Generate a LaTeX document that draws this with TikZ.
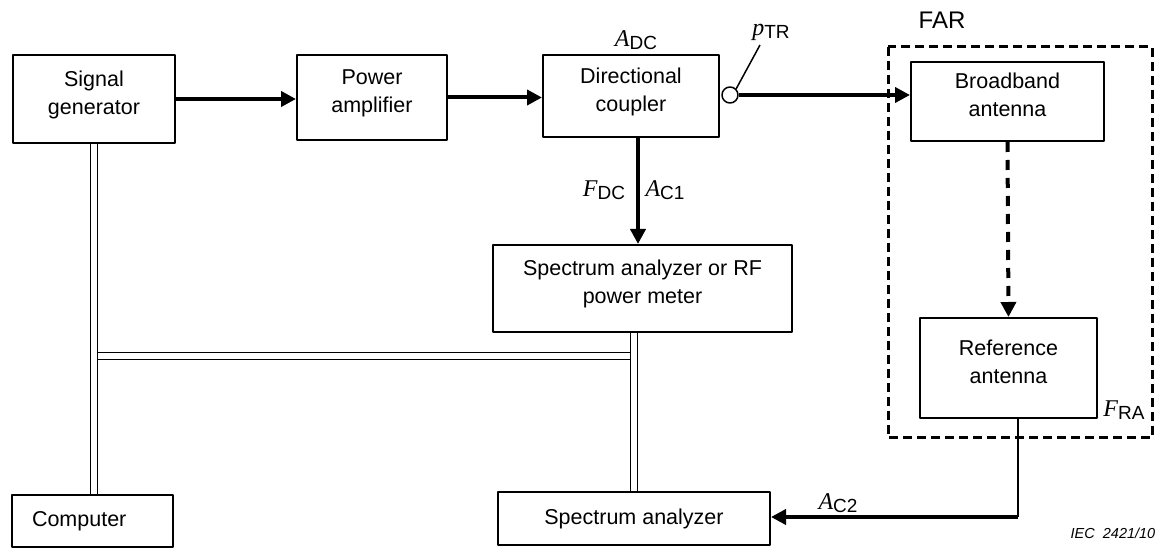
\documentclass[tikz,border=0pt]{standalone}
\usepackage{fontspec}
\setmainfont{Liberation Sans}
\newfontfamily\symfont{Liberation Serif}
\usetikzlibrary{arrows.meta}
\newcommand\qsym[2]{{\symfont\itshape\fontsize{24}{24}\selectfont #1}\raisebox{-.3ex}{\fontsize{19}{19}\selectfont #2}}
\newcommand\twoline[2]{\raisebox{0pt}[\height][\dimexpr\depth+9pt\relax]{\begin{tabular}{@{}c@{}}#1\\#2\end{tabular}}}
\begin{document}
\begin{tikzpicture}[x=1pt,y=-1pt,join=round,
    font=\fontsize{21.5}{28}\selectfont,
    box/.style={draw,line width=2pt,inner sep=0pt},
    sig/.style={line width=4pt,-{Triangle[length=15pt,width=15pt]}},
    bus/.style={double,double distance=5.5pt,line width=1.5pt},
    thinline/.style={line width=2pt}]% measurement set-up, FAR
        \useasboundingbox (0,0) rectangle (1171,553);
        % instruments
        \node[box,minimum width=162pt,minimum height=88pt] (siggen) at (94,99) {\twoline{Signal}{generator}};
        \node[box,minimum width=150pt,minimum height=85pt] (pamp) at (372,97.5) {\twoline{Power}{amplifier}};
        \node[box,minimum width=176pt,minimum height=82pt] (dcoup) at (631,96) {\twoline{Directional}{coupler}};
        \node[box,minimum width=299pt,minimum height=87pt] (sarf) at (642.5,288.5) {\twoline{Spectrum analyzer or RF}{power meter}};
        \node[box,minimum width=161pt,minimum height=52pt,text width=121pt] (comp) at (92.5,521) {Computer};
        \node[box,minimum width=272pt,minimum height=53pt] (sa) at (634,518.5) {Spectrum analyzer};
        % FAR
        \draw[line width=3pt,dash pattern=on 9pt off 5pt] (888,47) rectangle (1152,438);
        \node[font=\fontsize{24}{24}\selectfont] (far) at (942,20) {FAR};
        \node[box,minimum width=193pt,minimum height=79pt] (bband) at (1007.5,101.5) {\twoline{Broadband}{antenna}};
        \node[box,minimum width=177pt,minimum height=100pt] (refant) at (1008.5,368) {\twoline{Reference}{antenna}};
        \node[draw,circle,line width=1.5pt,minimum size=16pt,inner sep=0pt] (port) at (730,95) {};
        % labels
        \node (adc) at (636,40) {\qsym{A}{DC}};
        \node (ptr) at (771,32) {\qsym{p}{TR}};
        \node (fdc) at (604,190) {\qsym{F}{DC}};
        \node (ac2) at (838,503) {\qsym{A}{C2}};
        \node (ac1) at (665,190) {\qsym{A}{C1}};
        \node (fra) at (1124,410) {\qsym{F}{RA}};
        \node[font=\fontsize{14.5}{14.5}\selectfont\itshape] (iec) at (1113,533) {IEC\ \ 2421/10};
        % signal path
        \draw[sig] (siggen.east) -- (siggen.east -| pamp.west);
        \draw[sig] (pamp.east) -- (pamp.east -| dcoup.west);
        \draw[sig] (port.east) -- (port.east -| bband.west);
        \draw[line width=1.5pt] (port.45) -- (760,45);
        \draw[sig] ([xshift=7pt]dcoup.south) -- ([xshift=7pt]dcoup.south |- sarf.north);
        \draw[sig,dash pattern=on 10pt off 8pt] (bband.south) -- (refant.north);
        \coordinate (tap) at (1018,517);
        \draw[thinline] ([xshift=9.5pt]refant.south) -- (tap);
        \draw[sig] (tap) -- (tap -| sa.east);
        % control bus
        \coordinate (hbus) at (0,356);
        \draw[bus] (siggen.south) -- (siggen.south |- comp.north);
        \draw[bus] (sa.north |- sarf.south) -- (sa.north);
        \draw[bus] ([xshift=4pt]siggen.south |- hbus) -- ([xshift=-4pt]sa.north |- hbus);
\end{tikzpicture}
\end{document}
